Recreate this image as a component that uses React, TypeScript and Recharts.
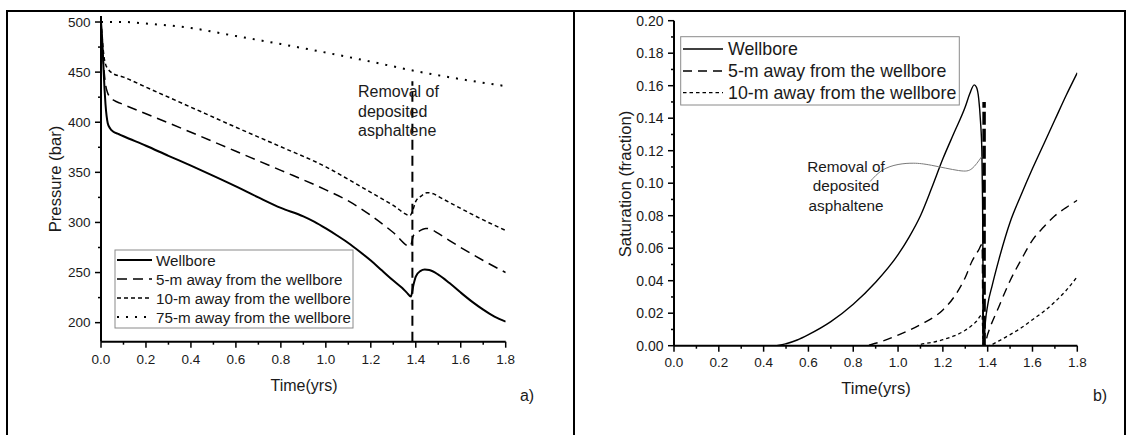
import React from 'react';
import { LineChart, Line, XAxis, YAxis } from 'recharts';

const FONT = '"Liberation Sans", Arial, Helvetica, sans-serif';
const TXT = '#1a1a1a';

// ---------- tick values ----------
const timeMajorTicks = [0, 0.2, 0.4, 0.6, 0.8, 1.0, 1.2, 1.4, 1.6, 1.8];
const timeMinorTicks = [0.1, 0.3, 0.5, 0.7, 0.9, 1.1, 1.3, 1.5, 1.7];
const pressureMajorTicks = [200, 250, 300, 350, 400, 450, 500];
const pressureMinorTicks = [225, 275, 325, 375, 425, 475];
const saturationMajorTicks = [0, 0.02, 0.04, 0.06, 0.08, 0.1, 0.12, 0.14, 0.16, 0.18, 0.2];
const saturationMinorTicks = [0.01, 0.03, 0.05, 0.07, 0.09, 0.11, 0.13, 0.15, 0.17, 0.19];

const timeDomain = [0, 1.8];
const pressureDomain = [181, 506];
const saturationDomain = [0, 0.2];

// ---------- series names ----------
const pressureSeriesNames = [
  'Wellbore',
  '5-m away from the wellbore',
  '10-m away from the wellbore',
  '75-m away from the wellbore',
];
const saturationSeriesNames = [
  'Wellbore',
  '5-m away from the wellbore',
  '10-m away from the wellbore',
];

// ---------- panel a) pressure (time, bar) ----------
const wellborePressure: [number, number][] = [
  [0, 500], [0.004, 488], [0.008, 470], [0.012, 450], [0.016, 432], [0.02, 418],
  [0.025, 406], [0.03, 399], [0.04, 394], [0.055, 390.5], [0.08, 388], [0.1, 386],
  [0.2, 376.5], [0.3, 366.5], [0.4, 356.7], [0.5, 346.5], [0.6, 336], [0.7, 325],
  [0.8, 314.5], [0.9, 306], [0.95, 300.5], [1.0, 294], [1.05, 287], [1.1, 279.5],
  [1.15, 271], [1.2, 262], [1.25, 252], [1.3, 242], [1.34, 234.5], [1.36, 230],
  [1.378, 226], [1.39, 238], [1.4, 246], [1.42, 251.5], [1.44, 253], [1.46, 252.5],
  [1.5, 248], [1.55, 239.5], [1.6, 230], [1.65, 221], [1.7, 213], [1.75, 206], [1.8, 201],
];
const fiveMeterPressure: [number, number][] = [
  [0, 500], [0.005, 478], [0.01, 462], [0.015, 448], [0.02, 438], [0.03, 429],
  [0.04, 425], [0.06, 421.5], [0.085, 419], [0.2, 408.5], [0.4, 390], [0.6, 371],
  [0.8, 352], [1.0, 332.5], [1.1, 321.5], [1.2, 307], [1.3, 290], [1.375, 276],
  [1.39, 287], [1.41, 290.5], [1.445, 294], [1.47, 293], [1.5, 289], [1.6, 275],
  [1.7, 262], [1.8, 250],
];
const tenMeterPressure: [number, number][] = [
  [0, 500], [0.005, 485], [0.01, 472], [0.015, 463], [0.02, 458], [0.03, 453.5],
  [0.05, 449], [0.1, 445], [0.2, 435], [0.4, 415], [0.6, 395], [0.8, 375.5],
  [1.0, 355.5], [1.1, 343], [1.2, 330], [1.3, 317], [1.375, 307], [1.385, 311],
  [1.4, 321], [1.425, 326.5], [1.45, 329.7], [1.48, 328.5], [1.5, 326], [1.6, 314],
  [1.7, 302.5], [1.8, 292],
];
const seventyFiveMeterPressure: [number, number][] = [
  [0, 500], [0.1, 500], [0.2, 498.5], [0.4, 494], [0.6, 486], [0.8, 478],
  [1.0, 469.5], [1.2, 460.5], [1.4, 451], [1.6, 443], [1.8, 436],
];
const pressureRemovalLine: [number, number][] = [[1.385, 181], [1.385, 441]];

// ---------- panel b) saturation (time, fraction) ----------
const wellboreSaturation: [number, number][] = [
  [0, 0], [0.45, 0], [0.5, 0.0012], [0.55, 0.0035], [0.6, 0.0068], [0.7, 0.0148],
  [0.8, 0.0255], [0.9, 0.039], [1.0, 0.056], [1.05, 0.067], [1.1, 0.08], [1.15, 0.097],
  [1.2, 0.115], [1.25, 0.131], [1.3, 0.147], [1.32, 0.155], [1.34, 0.1605], [1.35, 0.159],
  [1.36, 0.152], [1.368, 0.138], [1.374, 0.12], [1.377, 0.09], [1.379, 0.05], [1.381, 0.01],
  [1.382, 0], [1.39, 0.015], [1.4, 0.025], [1.42, 0.037], [1.45, 0.053], [1.5, 0.076],
  [1.55, 0.093], [1.6, 0.109], [1.65, 0.124], [1.7, 0.139], [1.75, 0.154], [1.8, 0.168],
];
const fiveMeterSaturation: [number, number][] = [
  [0, 0], [0.85, 0], [0.9, 0.0015], [1.0, 0.0065], [1.1, 0.013], [1.2, 0.022],
  [1.25, 0.03], [1.3, 0.042], [1.33, 0.052], [1.36, 0.059], [1.375, 0.0625], [1.38, 0],
  [1.385, 0], [1.4, 0.007], [1.45, 0.024], [1.5, 0.04], [1.55, 0.053], [1.6, 0.065],
  [1.65, 0.073], [1.7, 0.08], [1.75, 0.085], [1.8, 0.0895],
];
const tenMeterSaturation: [number, number][] = [
  [0, 0], [1.08, 0], [1.1, 0.0008], [1.15, 0.002], [1.2, 0.0037], [1.25, 0.006],
  [1.3, 0.0095], [1.35, 0.015], [1.375, 0.019], [1.38, 0], [1.4, 0], [1.45, 0.003],
  [1.5, 0.0068], [1.55, 0.011], [1.6, 0.016], [1.65, 0.021], [1.7, 0.027], [1.75, 0.034],
  [1.8, 0.0425],
];
const saturationRemovalLine: [number, number][] = [[1.384, 0], [1.384, 0.15]];
const saturationAnnotationCurve: [number, number][] = [
  [0.875, 0.101], [0.93, 0.108], [1.0, 0.1115], [1.07, 0.1123], [1.15, 0.111],
  [1.27, 0.1078], [1.33, 0.109], [1.373, 0.1163],
];

// ---------- styles ----------
const pressureStyles = [
  { width: 2, dash: undefined as string | undefined },
  { width: 1.5, dash: '10 6' },
  { width: 1.5, dash: '4 3' },
  { width: 2, dash: '2 7' },
];
const saturationStyles = [
  { width: 1.4, dash: undefined as string | undefined },
  { width: 1.4, dash: '9 6' },
  { width: 1.3, dash: '3.5 3' },
];

const toPts = (arr: [number, number][]) => arr.map(([x, y]) => ({ x, y }));
const isIn = (v: number, arr: number[]) => arr.some((a) => Math.abs(a - v) < 1e-9);
const axisLineStyle = { stroke: '#000', strokeWidth: 2 };

const makeBottomTick = (majors: number[], fontSize: number, gap: number, digits: number) =>
  (p: any) => {
    const { x, y, payload } = p;
    const major = isIn(payload.value, majors);
    return (
      <g>
        <line x1={x} x2={x} y1={y} y2={y + (major ? 6 : 3)} stroke="#000" strokeWidth={1.5} />
        {major && (
          <text x={x} y={y + gap} textAnchor="middle" dominantBaseline="central"
            fontSize={fontSize} fontFamily={FONT} fill={TXT}>
            {Number(payload.value).toFixed(digits)}
          </text>
        )}
      </g>
    );
  };
const makeTopTick = (majors: number[]) => (p: any) => {
  const { x, y, payload } = p;
  const major = isIn(payload.value, majors);
  return <line x1={x} x2={x} y1={y} y2={y + (major ? 6 : 3)} stroke="#000" strokeWidth={1.5} />;
};
const makeLeftTick = (majors: number[], fontSize: number, gap: number, digits: number) =>
  (p: any) => {
    const { x, y, payload } = p;
    const major = isIn(payload.value, majors);
    return (
      <g>
        <line x1={x - (major ? 6 : 3)} x2={x} y1={y} y2={y} stroke="#000" strokeWidth={1.5} />
        {major && (
          <text x={x - gap} y={y} textAnchor="end" dominantBaseline="central"
            fontSize={fontSize} fontFamily={FONT} fill={TXT}>
            {Number(payload.value).toFixed(digits)}
          </text>
        )}
      </g>
    );
  };
const makeRightTick = (majors: number[]) => (p: any) => {
  const { x, y, payload } = p;
  const major = isIn(payload.value, majors);
  return <line x1={x - (major ? 6 : 3)} x2={x} y1={y} y2={y} stroke="#000" strokeWidth={1.5} />;
};

const allTime = [...timeMajorTicks, ...timeMinorTicks].sort((a, b) => a - b);
const allPressure = [...pressureMajorTicks, ...pressureMinorTicks].sort((a, b) => a - b);
const allSaturation = [...saturationMajorTicks, ...saturationMinorTicks].sort((a, b) => a - b);

function LegendBox({ x, y, w, h, names, styles, rowYs, sx1, sx2, tx, fontSize }: any) {
  return (
    <g>
      <rect x={x} y={y} width={w} height={h} fill="#fff" stroke="#8a8a8a" strokeWidth={1} />
      {names.map((n: string, i: number) => (
        <g key={n}>
          <line x1={sx1} x2={sx2} y1={rowYs[i]} y2={rowYs[i]} stroke="#000"
            strokeWidth={styles[i].width} strokeDasharray={styles[i].dash} />
          <text x={tx} y={rowYs[i]} dominantBaseline="central" fontSize={fontSize}
            fontFamily={FONT} fill={TXT}>{n}</text>
        </g>
      ))}
    </g>
  );
}

export default function App() {
  const pressureSeries = [wellborePressure, fiveMeterPressure, tenMeterPressure, seventyFiveMeterPressure];
  const saturationSeries = [wellboreSaturation, fiveMeterSaturation, tenMeterSaturation];
  return (
    <div style={{ position: 'absolute', left: 0, top: 0, width: 1131, height: 435, background: '#fff', overflow: 'hidden' }}>
      {/* panel a */}
      <div style={{ position: 'absolute', left: 0, top: 0 }}>
        <LineChart width={560} height={435} margin={{ top: 16, right: 54.3, bottom: 53.3, left: 9 }}>
          <XAxis xAxisId="b" dataKey="x" type="number" domain={timeDomain} allowDataOverflow
            ticks={allTime} interval={0} tickSize={0} tickMargin={0} height={40}
            axisLine={axisLineStyle} tickLine={false} tick={makeBottomTick(timeMajorTicks, 13.5, 18, 1)} />
          <XAxis xAxisId="t" orientation="top" dataKey="x" type="number" domain={timeDomain} allowDataOverflow
            ticks={allTime} interval={0} tickSize={0} tickMargin={0} height={0}
            axisLine={axisLineStyle} tickLine={false} tick={makeTopTick(timeMajorTicks)} />
          <YAxis yAxisId="l" type="number" domain={pressureDomain} allowDataOverflow
            ticks={allPressure} interval={0} tickSize={0} tickMargin={0} width={92}
            axisLine={axisLineStyle} tickLine={false} tick={makeLeftTick(pressureMajorTicks, 13.5, 10.5, 0)} />
          <YAxis yAxisId="r" orientation="right" type="number" domain={pressureDomain} allowDataOverflow
            ticks={allPressure} interval={0} tickSize={0} tickMargin={0} width={0}
            axisLine={axisLineStyle} tickLine={false} tick={makeRightTick(pressureMajorTicks)} />
          {[3, 2, 1, 0].map((i) => (
            <Line key={pressureSeriesNames[i]} name={pressureSeriesNames[i]} xAxisId="b" yAxisId="l"
              data={toPts(pressureSeries[i])} dataKey="y" type="monotone" stroke="#000"
              strokeWidth={pressureStyles[i].width} strokeDasharray={pressureStyles[i].dash}
              dot={false} activeDot={false} isAnimationActive={false} />
          ))}
          <Line xAxisId="b" yAxisId="l" data={toPts(pressureRemovalLine)} dataKey="y" type="linear"
            stroke="#000" strokeWidth={2} strokeDasharray="10 6" dot={false} activeDot={false}
            isAnimationActive={false} />
        </LineChart>
      </div>

      {/* panel b */}
      <div style={{ position: 'absolute', left: 570, top: 0 }}>
        <LineChart width={561} height={435} margin={{ top: 20.7, right: 53.7, bottom: 49.3, left: 14 }}>
          <XAxis xAxisId="b" dataKey="x" type="number" domain={timeDomain} allowDataOverflow
            ticks={allTime} interval={0} tickSize={0} tickMargin={0} height={40}
            axisLine={axisLineStyle} tickLine={false} tick={makeBottomTick(timeMajorTicks, 13.5, 17, 1)} />
          <XAxis xAxisId="t" orientation="top" dataKey="x" type="number" domain={timeDomain} allowDataOverflow
            ticks={allTime} interval={0} tickSize={0} tickMargin={0} height={0}
            axisLine={axisLineStyle} tickLine={false} tick={makeTopTick(timeMajorTicks)} />
          <YAxis yAxisId="l" type="number" domain={saturationDomain} allowDataOverflow
            ticks={allSaturation} interval={0} tickSize={0} tickMargin={0} width={90}
            axisLine={axisLineStyle} tickLine={false} tick={makeLeftTick(saturationMajorTicks, 14, 10.5, 2)} />
          <YAxis yAxisId="r" orientation="right" type="number" domain={saturationDomain} allowDataOverflow
            ticks={allSaturation} interval={0} tickSize={0} tickMargin={0} width={0}
            axisLine={axisLineStyle} tickLine={false} tick={makeRightTick(saturationMajorTicks)} />
          {[2, 1, 0].map((i) => (
            <Line key={saturationSeriesNames[i]} name={saturationSeriesNames[i]} xAxisId="b" yAxisId="l"
              data={toPts(saturationSeries[i])} dataKey="y" type="monotone" stroke="#000"
              strokeWidth={saturationStyles[i].width} strokeDasharray={saturationStyles[i].dash}
              dot={false} activeDot={false} isAnimationActive={false} />
          ))}
          <Line xAxisId="b" yAxisId="l" data={toPts(saturationRemovalLine)} dataKey="y" type="linear"
            stroke="#000" strokeWidth={3.5} strokeDasharray="13 4" dot={false} activeDot={false}
            isAnimationActive={false} />
          <Line xAxisId="b" yAxisId="l" data={toPts(saturationAnnotationCurve)} dataKey="y" type="natural"
            stroke="#7a7a7a" strokeWidth={1} dot={false} activeDot={false} isAnimationActive={false} />
        </LineChart>
      </div>

      {/* overlay: frame, titles, legends, annotations */}
      <svg width={1131} height={435} style={{ position: 'absolute', left: 0, top: 0, pointerEvents: 'none' }}>
        <g stroke="#000" strokeWidth={2}>
          <line x1={6} y1={11} x2={1126} y2={11} />
          <line x1={7} y1={10} x2={7} y2={435} />
          <line x1={574} y1={10} x2={574} y2={435} />
          <line x1={1125} y1={10} x2={1125} y2={435} />
        </g>
        <g fontFamily={FONT} fill={TXT}>
          <text x={55} y={179} transform="rotate(-90 55 179)" textAnchor="middle" dominantBaseline="central" fontSize={16.7}>Pressure (bar)</text>
          <text x={304} y={385} textAnchor="middle" dominantBaseline="central" fontSize={16}>Time(yrs)</text>
          <text x={527} y={395} textAnchor="middle" dominantBaseline="central" fontSize={16}>a)</text>
          <text x={625} y={184} transform="rotate(-90 625 184)" textAnchor="middle" dominantBaseline="central" fontSize={16.7}>Saturation (fraction)</text>
          <text x={876} y={388} textAnchor="middle" dominantBaseline="central" fontSize={16.6}>Time(yrs)</text>
          <text x={1100} y={395} textAnchor="middle" dominantBaseline="central" fontSize={16}>b)</text>

          <text x={358} y={91.7} dominantBaseline="central" fontSize={16}>Removal of</text>
          <text x={358} y={111.7} dominantBaseline="central" fontSize={16}>deposited</text>
          <text x={358} y={130.7} dominantBaseline="central" fontSize={16}>asphaltene</text>

          <text x={846} y={166.7} textAnchor="middle" dominantBaseline="central" fontSize={15.3}>Removal of</text>
          <text x={846} y={185.7} textAnchor="middle" dominantBaseline="central" fontSize={15.3}>deposited</text>
          <text x={846} y={205} textAnchor="middle" dominantBaseline="central" fontSize={15.3}>asphaltene</text>
        </g>
        <LegendBox x={115} y={250} w={238} h={78} names={pressureSeriesNames} styles={pressureStyles}
          rowYs={[260, 279, 298, 317]} sx1={117} sx2={152} tx={156} fontSize={15.2} />
        <LegendBox x={680.7} y={36.7} w={278.6} h={68.3} names={saturationSeriesNames} styles={saturationStyles}
          rowYs={[49, 71, 92.7]} sx1={683} sx2={723} tx={728} fontSize={17.8} />
      </svg>
    </div>
  );
}
